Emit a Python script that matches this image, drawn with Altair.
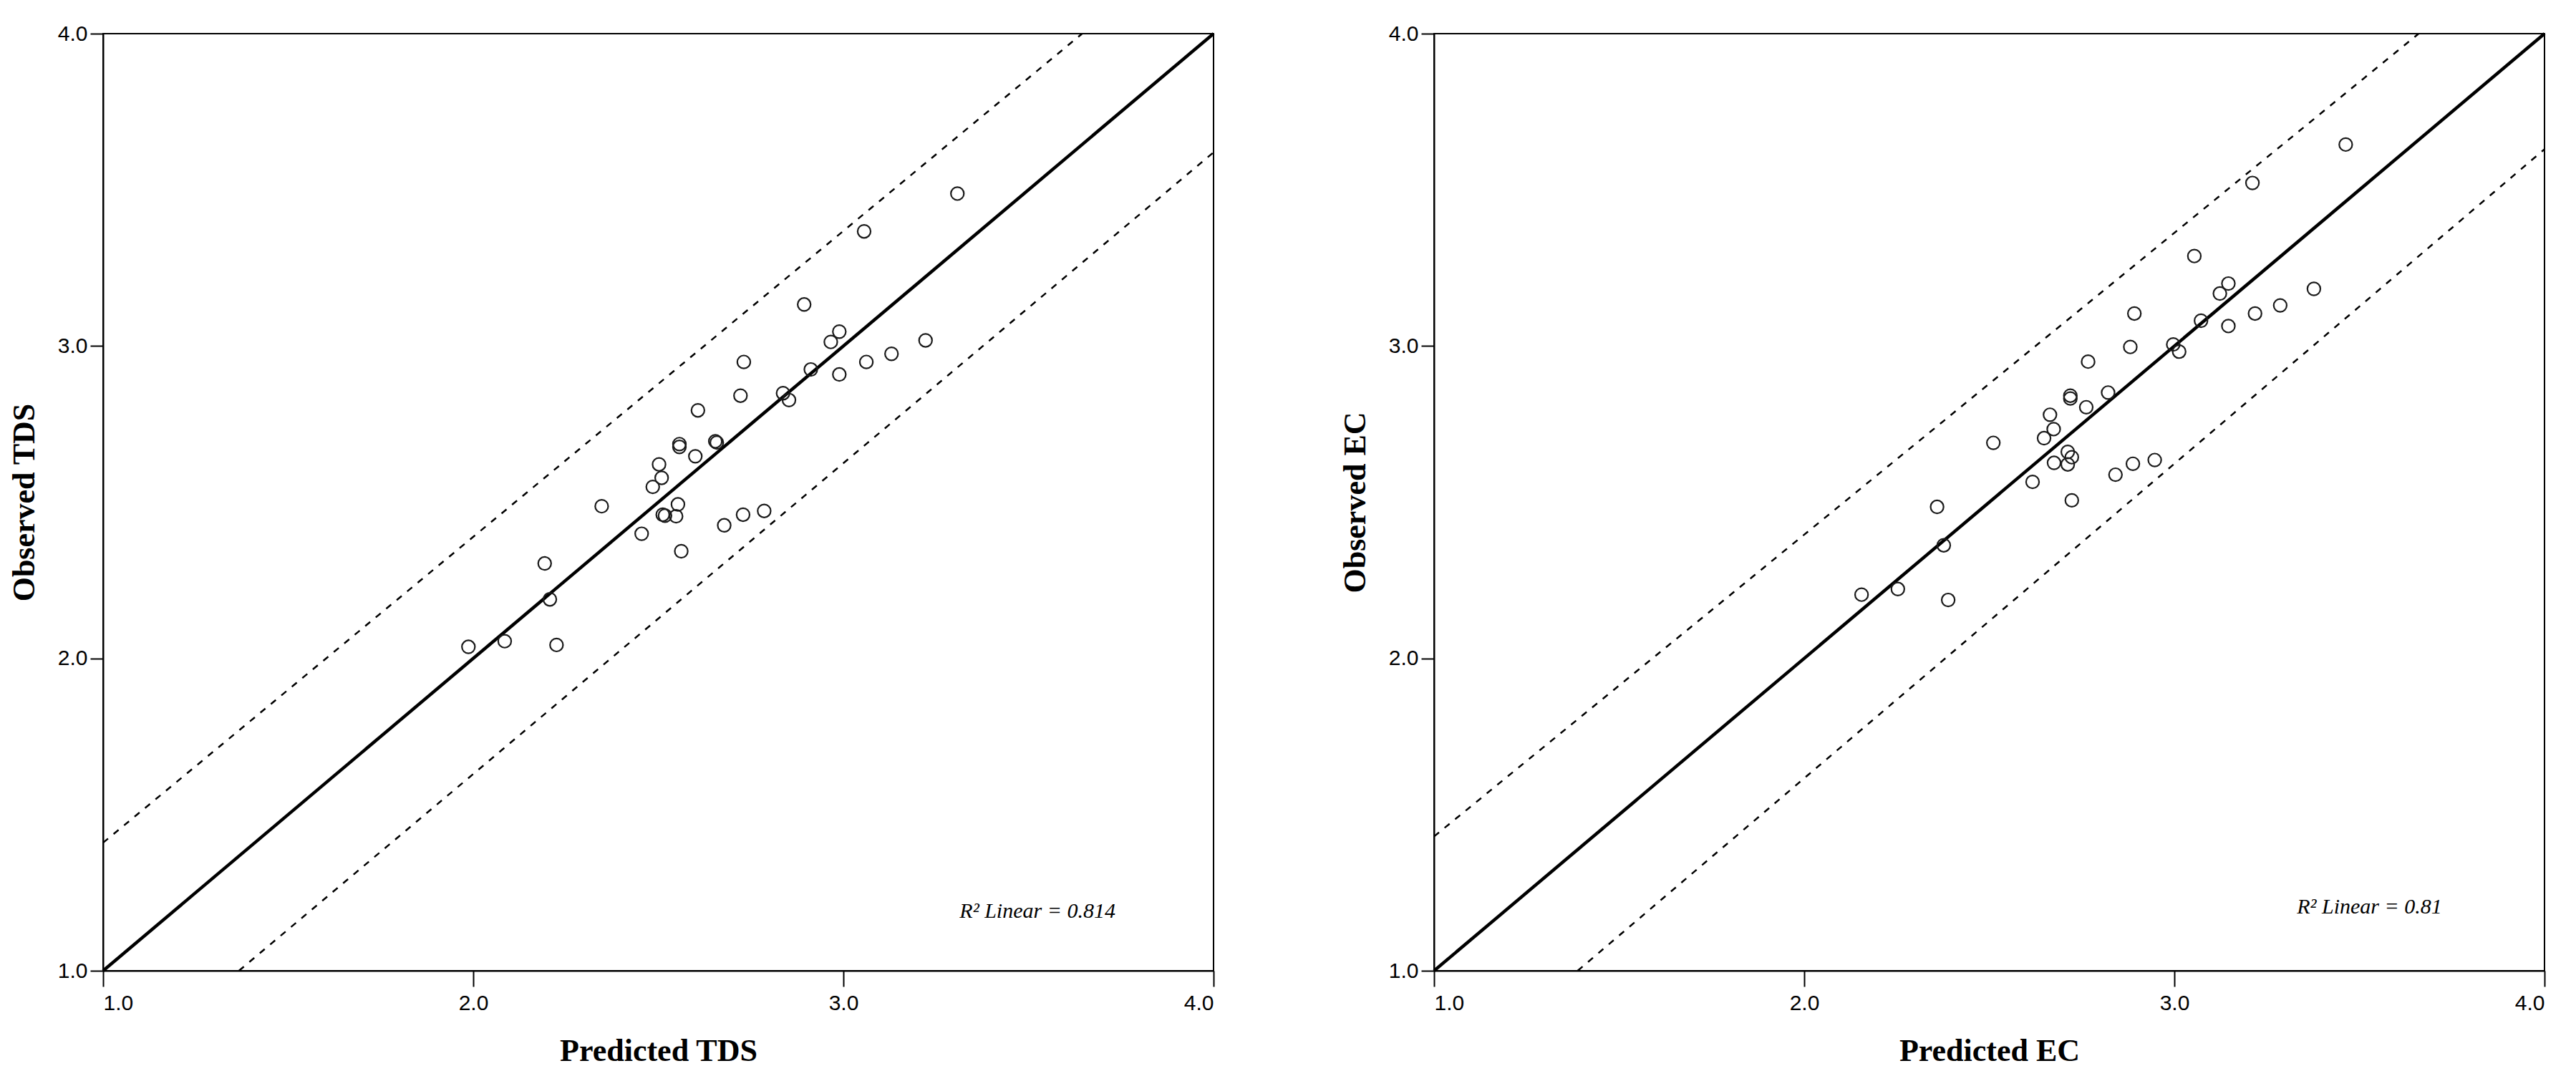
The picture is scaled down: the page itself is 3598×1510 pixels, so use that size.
import altair as alt
import pandas as pd

# ---------------- data ----------------
ticks = [1.0, 2.0, 3.0, 4.0]

tds_pred = [3.308, 3.056, 2.894, 2.989, 2.966, 3.222, 3.130, 3.062, 2.731, 2.912,
            2.989, 2.722, 2.837, 2.853, 2.607, 2.557, 2.557, 2.658, 2.654, 2.600,
            2.502, 2.509, 2.485, 2.347, 2.553, 2.512, 2.548, 2.518, 2.455, 2.678,
            2.729, 2.786, 2.562, 2.193, 2.207, 2.085, 1.987, 2.225]
tds_obs = [3.488, 3.367, 3.133, 3.046, 3.013, 3.018, 2.975, 2.949, 2.949, 2.925,
           2.909, 2.841, 2.849, 2.827, 2.794, 2.686, 2.677, 2.691, 2.695, 2.647,
           2.621, 2.578, 2.549, 2.487, 2.493, 2.460, 2.455, 2.457, 2.399, 2.426,
           2.460, 2.472, 2.343, 2.304, 2.189, 2.055, 2.037, 2.043]

ec_pred = [3.463, 3.211, 3.054, 3.146, 3.123, 3.377, 3.286, 3.218, 2.892, 3.072,
           3.146, 2.881, 2.997, 3.013, 2.767, 2.719, 2.719, 2.821, 2.762, 2.664,
           2.674, 2.648, 2.511, 2.712, 2.723, 2.675, 2.712, 2.617, 2.841, 2.888,
           2.947, 2.723, 2.359, 2.377, 2.253, 2.155, 2.389]
ec_obs = [3.645, 3.522, 3.288, 3.200, 3.168, 3.183, 3.130, 3.104, 3.104, 3.081,
          3.064, 2.997, 3.005, 2.982, 2.950, 2.841, 2.832, 2.851, 2.804, 2.780,
          2.734, 2.705, 2.690, 2.661, 2.644, 2.626, 2.621, 2.565, 2.588, 2.623,
          2.635, 2.506, 2.485, 2.362, 2.222, 2.204, 2.187]

# reference (1:1) line and prediction-interval lines (end points)
ref_x = [1.0, 4.0]
ref_y = [1.0, 4.0]
tds_upper_x = [1.0, 3.645]
tds_upper_y = [1.41, 4.0]
tds_lower_x = [1.367, 4.0]
tds_lower_y = [1.0, 3.62]
ec_upper_x = [1.0, 3.66]
ec_upper_y = [1.43, 4.0]
ec_lower_x = [1.388, 4.0]
ec_lower_y = [1.0, 3.63]

tds_r2 = "R²  Linear =  0.814"
ec_r2 = "R²  Linear =  0.81"

PW, PH = 1551, 1309


def panel(pred, obs, ux, uy, lx, ly, xtitle, ytitle, r2, r2x, r2y):
    sx = alt.Scale(domain=[1, 4], nice=False, zero=False)
    sy = alt.Scale(domain=[1, 4], nice=False, zero=False)
    xax = alt.Axis(values=ticks, format=".1f", title=xtitle, tickSize=22,
                   labelPadding=8, titlePadding=30, grid=False)
    yax = alt.Axis(values=ticks, format=".1f", title=ytitle, tickSize=18,
                   labelPadding=4, titlePadding=24, grid=False)
    X = alt.X("p:Q", scale=sx, axis=xax)
    Y = alt.Y("o:Q", scale=sy, axis=yax)

    pts = pd.DataFrame({"p": pred, "o": obs})
    ref = pd.DataFrame({"p": ref_x, "o": ref_y})
    band = pd.DataFrame({"p": ux + lx, "o": uy + ly,
                         "g": ["upper"] * len(ux) + ["lower"] * len(lx)})
    lab = pd.DataFrame({"p": [r2x], "o": [r2y], "t": [r2]})

    refline = alt.Chart(ref).mark_line(color="black", strokeWidth=4.5).encode(x=X, y=Y)
    bands = alt.Chart(band).mark_line(color="black", strokeWidth=2.5,
                                      strokeDash=[9, 10]).encode(x=X, y=Y, detail="g:N")
    points = alt.Chart(pts).mark_point(shape="circle", filled=False, size=330,
                                       stroke="#1a1a1a", strokeWidth=2.2,
                                       opacity=1).encode(x=X, y=Y)
    text = alt.Chart(lab).mark_text(align="left", baseline="middle", fontSize=30,
                                    fontStyle="italic", font="Liberation Serif",
                                    color="black").encode(x=X, y=Y, text="t:N")
    return alt.layer(refline, bands, points, text).properties(width=PW, height=PH)


left = panel(tds_pred, tds_obs, tds_upper_x, tds_upper_y, tds_lower_x, tds_lower_y,
             "Predicted TDS", "Observed TDS", tds_r2, 3.314, 1.19)
right = panel(ec_pred, ec_obs, ec_upper_x, ec_upper_y, ec_lower_x, ec_lower_y,
              "Predicted EC", "Observed EC", ec_r2, 3.331, 1.205)

chart = alt.hconcat(left, right, spacing=165).properties(
    padding={"left": 3, "top": 23, "right": 5, "bottom": 5},
    background="white",
).configure_axis(
    grid=False,
    domainColor="black", domainWidth=2,
    tickColor="black", tickWidth=2,
    labelColor="black", labelFont="Liberation Sans", labelFontSize=30,
    titleColor="black", titleFont="Liberation Serif", titleFontSize=44,
    titleFontWeight="bold",
).configure_view(stroke="black", strokeWidth=2)

chart.save("out.html", embed_options={"renderer": "svg", "actions": False})
